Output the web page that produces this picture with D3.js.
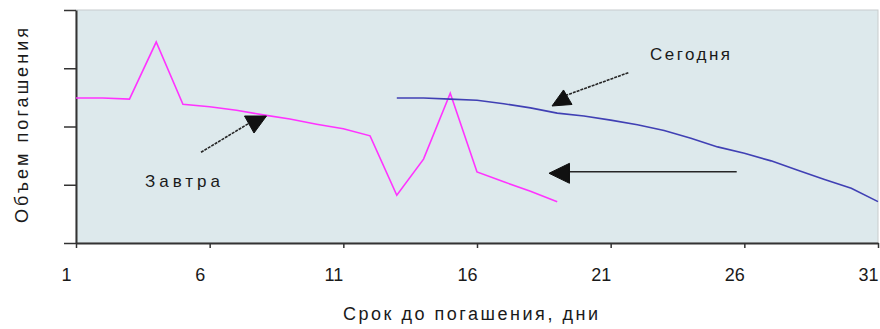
<!DOCTYPE html>
<html>
<head>
<meta charset="utf-8">
<script src="https://cdn.jsdelivr.net/npm/d3@7"></script>
<style>
  html, body { margin: 0; padding: 0; background: #ffffff; }
  text { font-family: "Liberation Sans", Arial, sans-serif; fill: #1a1a1a; }
</style>
</head>
<body>
<svg id="chart" width="880" height="329"></svg>
<script>
// ---- data ----
const xTicks = [1, 6, 11, 16, 21, 26, 31];
const yTicks = [0, 1, 2, 3, 4];
const tomorrowDays = [1,2,3,4,5,6,7,8,9,10,11,12,13,14,15,16,17,18,19];
const tomorrowValues = [2.49,2.49,2.47,3.45,2.38,2.34,2.28,2.20,2.13,2.04,1.96,1.84,0.82,1.44,2.57,1.22,1.05,0.89,0.71];
const todayDays = [13,14,15,16,17,18,19,20,21,22,23,24,25,26,27,28,29,30,31];
const todayValues = [2.49,2.49,2.47,2.45,2.39,2.32,2.23,2.18,2.11,2.03,1.93,1.80,1.65,1.54,1.41,1.25,1.09,0.94,0.71];
const xTitle = "Срок до погашения, дни";
const yTitle = "Объем погашения";
const labelToday = "Сегодня";
const labelTomorrow = "Завтра";

// ---- layout ----
const svg = d3.select("#chart");
const pLeft = 76, pRight = 878, pTop = 10, pBottom = 243;
const x = d3.scaleLinear().domain([1, 31]).range([pLeft, pRight]);
const y = d3.scaleLinear().domain([0, 4]).range([pBottom, pTop]);

// plot background
svg.append("rect")
  .attr("x", pLeft).attr("y", pTop)
  .attr("width", pRight - pLeft).attr("height", pBottom - pTop)
  .attr("fill", "#dde9ec")
  .attr("stroke", "#c8cccd").attr("stroke-width", 1);

// axes
const xAxis = svg.append("g").attr("transform", `translate(0,${pBottom})`)
  .call(d3.axisBottom(x).tickValues(xTicks).tickSize(5).tickSizeOuter(0).tickFormat(d3.format("d")));
xAxis.select(".domain").attr("stroke", "#333").attr("stroke-width", 2);
xAxis.selectAll(".tick line").attr("stroke", "#333").attr("stroke-width", 1.5);
xAxis.selectAll(".tick text")
  .attr("font-size", 18).attr("dy", 0).attr("y", 38)
  .attr("transform", "translate(-10,0)")
  .attr("fill", "#1a1a1a").style("font-family", "'Liberation Sans', Arial, sans-serif");

const yAxis = svg.append("g").attr("transform", `translate(${pLeft},0)`)
  .call(d3.axisLeft(y).tickValues(yTicks).tickSize(12).tickSizeOuter(0).tickFormat(""));
yAxis.select(".domain").attr("stroke", "#333").attr("stroke-width", 2);
yAxis.selectAll(".tick line").attr("stroke", "#333").attr("stroke-width", 1.5);

// titles
svg.append("text")
  .attr("x", 343).attr("y", 320)
  .attr("font-size", 18)
  .attr("textLength", 255).attr("lengthAdjust", "spacing")
  .text(xTitle);

svg.append("text")
  .attr("transform", "translate(28,223) rotate(-90)")
  .attr("font-size", 18)
  .attr("textLength", 195).attr("lengthAdjust", "spacing")
  .text(yTitle);

// lines
const line = d3.line().x(d => x(d[0])).y(d => y(d[1]));
svg.append("path")
  .datum(tomorrowDays.map((d, i) => [d, tomorrowValues[i]]))
  .attr("d", line).attr("fill", "none")
  .attr("stroke", "#ff33ff").attr("stroke-width", 1.6);
svg.append("path")
  .datum(todayDays.map((d, i) => [d, todayValues[i]]))
  .attr("d", line).attr("fill", "none")
  .attr("stroke", "#4040b4").attr("stroke-width", 1.6);

// annotations (in data units)
const ink = "#262626";
function tri(pts) {
  svg.append("path")
    .attr("d", "M" + pts.map(p => x(p[0]) + "," + y(p[1])).join("L") + "Z")
    .attr("fill", "#111").attr("stroke", "#111").attr("stroke-width", 1);
}
function seg(a, b, dashed) {
  svg.append("line")
    .attr("x1", x(a[0])).attr("y1", y(a[1]))
    .attr("x2", x(b[0])).attr("y2", y(b[1]))
    .attr("stroke", ink).attr("stroke-width", 1.6)
    .attr("stroke-dasharray", dashed ? "3,1" : null);
}

// Завтра
svg.append("text").attr("x", x(3.58)).attr("y", y(0.961))
  .attr("font-size", 17).attr("fill", "#333")
  .attr("textLength", 75).attr("lengthAdjust", "spacing")
  .text(labelTomorrow);
seg([5.676, 1.557], [7.45, 2.05], true);
tri([[7.303, 2.18], [8.126, 2.18], [7.658, 1.888]]);

// Сегодня
svg.append("text").attr("x", x(22.47)).attr("y", y(3.15))
  .attr("font-size", 17).attr("fill", "#333")
  .attr("textLength", 80).attr("lengthAdjust", "spacing")
  .text(labelToday);
seg([21.66, 2.924], [19.3, 2.53], true);
tri([[18.806, 2.352], [19.236, 2.627], [19.554, 2.378]]);

// horizontal arrow
seg([19.442, 1.224], [25.715, 1.224], false);
tri([[18.693, 1.197], [19.46, 1.368], [19.46, 1.025]]);
</script>
</body>
</html>
